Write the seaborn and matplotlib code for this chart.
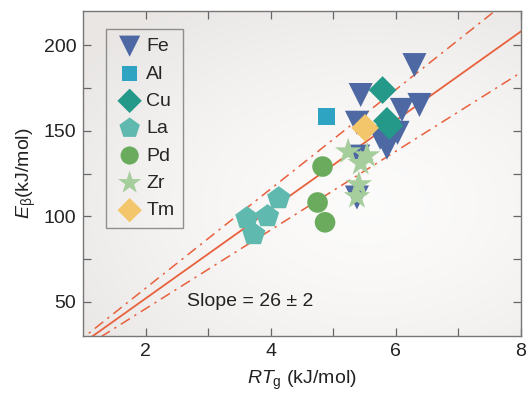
import numpy as np
import pandas as pd
import matplotlib
matplotlib.use("Agg")
import matplotlib.pyplot as plt
import seaborn as sns

# Activation energy vs. RT_g for several alloy families
fe_x = [6.30, 5.44, 6.38, 6.10, 5.38, 6.03, 5.75, 5.86, 5.40, 5.38]
fe_y = [188.4, 170.9, 165.1, 162.2, 154.7, 148.8, 145.9, 140.1, 134.9, 111.0]
al_x = [4.90]
al_y = [158.1]
cu_x = [5.79, 5.86, 5.90]
cu_y = [173.8, 155.8, 152.9]
la_x = [4.13, 3.95, 3.62, 3.73]
la_y = [110.5, 100.0, 98.8, 89.5]
pd_x = [4.83, 4.75, 4.87]
pd_y = [129.1, 108.1, 96.5]
zr_x = [5.24, 5.54, 5.44, 5.41, 5.38]
zr_y = [137.8, 135.5, 131.0, 118.6, 111.6]
tm_x = [5.51]
tm_y = [151.7]

elements = ["Fe", "Al", "Cu", "La", "Pd", "Zr", "Tm"]
xs = [fe_x, al_x, cu_x, la_x, pd_x, zr_x, tm_x]
ys = [fe_y, al_y, cu_y, la_y, pd_y, zr_y, tm_y]

slope = 26
slope_band = 3
slope_label = "Slope = 26 ± 2"

colors = {"Fe": "#4d68a3", "Al": "#2ea4c2", "Cu": "#24998a", "La": "#5fb9ae",
          "Pd": "#6aab5e", "Zr": "#a6cd9c", "Tm": "#f4c66c"}
markers = {"Fe": "v", "Al": "s", "Cu": "D", "La": "p", "Pd": "o", "Zr": "*", "Tm": "D"}
sizes = {"Fe": 300, "Al": 150, "Cu": 200, "La": 310, "Pd": 220, "Zr": 400, "Tm": 200}

df = pd.DataFrame({
    "element": np.concatenate([[e] * len(x) for e, x in zip(elements, xs)]),
    "RT": np.concatenate(xs),
    "E": np.concatenate(ys),
})

sns.set_theme(style="ticks")
plt.rcParams["font.family"] = ["Liberation Sans", "DejaVu Sans"]
plt.rcParams["mathtext.fontset"] = "custom"
plt.rcParams["mathtext.rm"] = "Liberation Sans"
plt.rcParams["mathtext.it"] = "Liberation Sans:italic"

fig = plt.figure(figsize=(5.26, 3.94), dpi=100)
ax = fig.add_axes([0.158, 0.147, 0.832, 0.825])

xlim = (1.0, 8.0)
ylim = (30, 220)

# soft shaded panel background
gx, gy = np.meshgrid(np.linspace(0, 1, 300), np.linspace(0, 1, 300))
r = np.sqrt(((gx - 0.65) / 1.0) ** 2 + ((gy - 0.40) / 0.9) ** 2)
shade = np.clip(r / 0.8, 0, 1) ** 1.6
bg = np.empty(gx.shape + (3,))
light = np.array([0.988, 0.985, 0.982])
dark = np.array([0.915, 0.905, 0.898])
for i in range(3):
    bg[..., i] = light[i] + (dark[i] - light[i]) * shade
ax.imshow(bg, extent=[xlim[0], xlim[1], ylim[0], ylim[1]], origin="lower",
          aspect="auto", zorder=0, interpolation="bilinear")

# fit line and band
lx = np.array([0.0, 9.0])
line_color = "#e8603c"
ax.plot(lx, slope * lx, color=line_color, lw=1.3, zorder=1)
ax.plot(lx, (slope + slope_band) * lx, color=line_color, lw=1.1,
        dashes=(7, 3.5, 1.5, 3.5), zorder=1)
ax.plot(lx, (slope - slope_band) * lx, color=line_color, lw=1.1,
        dashes=(7, 3.5, 1.5, 3.5), zorder=1)

for e in elements:
    sub = df[df["element"] == e]
    sns.scatterplot(data=sub, x="RT", y="E", ax=ax, marker=markers[e],
                    s=sizes[e], color=colors[e], edgecolor="none",
                    linewidth=0, label=e, zorder=3)

ax.set_xlim(*xlim)
ax.set_ylim(*ylim)
ax.set_xticks([2, 4, 6, 8])
ax.set_xticks([3, 5, 7], minor=True)
ax.set_yticks([50, 100, 150, 200])
ax.set_yticks([75, 125, 175], minor=True)
ax.tick_params(which="both", direction="in", top=True, right=True,
               length=6, width=0.9, color="#666666", labelsize=14,
               labelcolor="#222222", pad=5)
ax.tick_params(which="minor", length=6)
for sp in ax.spines.values():
    sp.set_color("#777777")
    sp.set_linewidth(1.0)

ax.set_xlabel(r"$RT_{\mathrm{g}}$ (kJ/mol)", fontsize=14, color="#222222", labelpad=6)
ax.set_ylabel(r"$E_{\mathrm{\beta}}$(kJ/mol)", fontsize=14, color="#222222", labelpad=4)

ax.text(3.68, 50.5, slope_label, fontsize=14, color="#222222",
        ha="center", va="center")

leg = ax.legend(loc="upper left", bbox_to_anchor=(0.053, 0.945), frameon=True,
                fancybox=False, edgecolor="#777777", facecolor="none",
                fontsize=14, handletextpad=0.1, labelspacing=0.5,
                borderpad=0.45, handlelength=1.5, markerscale=0.88,
                borderaxespad=0)
leg.get_frame().set_linewidth(1.0)

fig.savefig("out.png", dpi=100)
